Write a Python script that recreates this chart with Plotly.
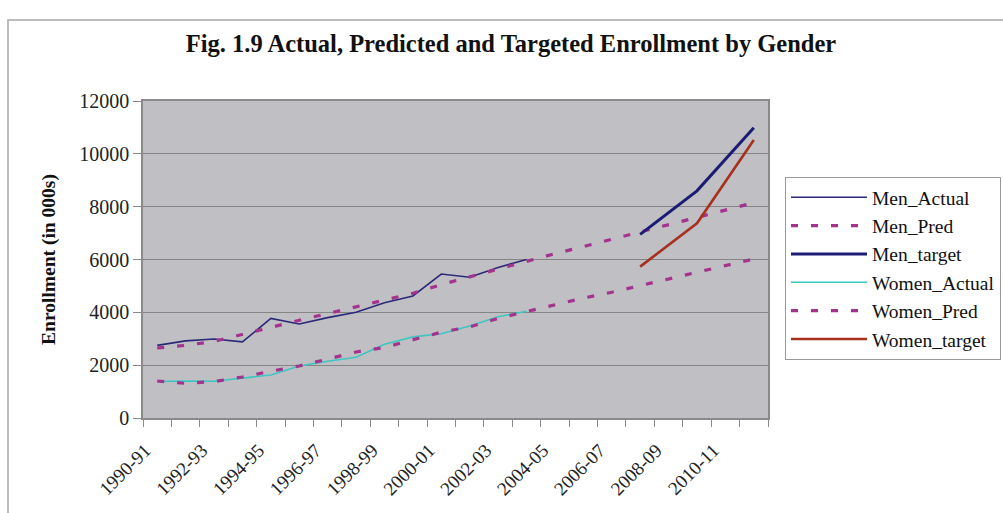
import plotly.graph_objects as go

# Academic years on the category axis
years = [f"{y}-{str(y + 1)[-2:]}" for y in range(1990, 2012)]

# Enrollment in thousands (None where a series has no value)
men_actual = [2750, 2920, 2990, 2880, 3770, 3560, 3800, 4000, 4360, 4620, 5450,
              5330, 5700, 6000, None, None, None, None, None, None, None, None]
men_pred = [2650, 2750, 2900, 3150, 3430, 3700, 3950, 4200, 4450, 4720, 5050,
            5350, 5650, 5920, 6220, 6490, 6760, 7050, 7320, 7590, 7870, 8150]
men_target = [None] * 17 + [6950, None, 8600, None, 10990]
women_actual = [1380, 1400, 1390, 1520, 1630, 1970, 2150, 2300, 2790, 3070, 3190,
                3480, 3830, 4040, None, None, None, None, None, None, None, None]
women_pred = [1400, 1310, 1380, 1550, 1770, 1970, 2230, 2500, 2670, 2970, 3250,
              3450, 3770, 4030, 4290, 4540, 4760, 5010, 5260, 5500, 5760, 6020]
women_target = [None] * 17 + [5730, None, 7370, None, 10520]

x = list(range(len(years)))
tick_idx = x[::2]
tick_text = years[::2]

SERIF = "Liberation Serif, Times New Roman, serif"
PRED_COLOR = "#A3338C"

series = [
    ("Men_Actual", men_actual, dict(color="#2C2A78", width=1.6)),
    ("Men_Pred", men_pred, dict(color=PRED_COLOR, width=3.2, dash="7px,13px")),
    ("Men_target", men_target, dict(color="#1C1C74", width=3)),
    ("Women_Actual", women_actual, dict(color="#3EC6C2", width=1.6)),
    ("Women_Pred", women_pred, dict(color=PRED_COLOR, width=3.2, dash="7px,13px")),
    ("Women_target", women_target, dict(color="#A8301F", width=2.6)),
]

fig = go.Figure()
for name, vals, line in series:
    fig.add_trace(go.Scatter(
        x=x, y=vals, name=name, mode="lines", line=line,
        connectgaps=True, legendgroup=name,
    ))

# Plot area in pixels: left 143, right 768, top 101, bottom 418
W, H = 1003, 513
L, R, T, B = 143, 768, 101, 418
pw, ph = R - L, B - T


def px_x(p):
    return (p - L) / pw


def px_y(p):
    return (B - p) / ph


fig.update_layout(
    width=W, height=H,
    margin=dict(l=L, r=W - R, t=T, b=H - B, autoexpand=False),
    paper_bgcolor="white",
    plot_bgcolor="#BFBFC4",
    font=dict(family=SERIF, color="black"),
    title=dict(
        text="<b>Fig. 1.9 Actual, Predicted and Targeted Enrollment by Gender</b>",
        x=511 / W, xanchor="center", y=1 - 43 / H, yanchor="middle",
        font=dict(size=24.5, family=SERIF, color="#111111"),
    ),
    showlegend=True,
    legend=dict(
        x=px_x(785), xanchor="left", y=px_y(177), yanchor="top",
        bordercolor="#9A9A9A", borderwidth=1, bgcolor="white",
        font=dict(size=19.5, family=SERIF, color="#111111"),
        tracegroupgap=6, itemwidth=76, traceorder="normal",
    ),
    xaxis=dict(
        range=[-0.5, len(years) - 0.5],
        tickmode="array", tickvals=tick_idx, ticktext=tick_text,
        tickangle=-45, ticks="", showgrid=False, zeroline=False,
        tickfont=dict(size=19, family=SERIF, color="#222222"),
        ticklabelshift=-12, ticklabelstandoff=12,
        showline=True, linecolor="#8A8A8A", linewidth=1.5, mirror=True,
        minor=dict(tickmode="linear", tick0=-0.5, dtick=1, ticks="outside",
                   ticklen=7, tickcolor="#8A8A8A", tickwidth=1, showgrid=False),
    ),
    yaxis=dict(
        range=[0, 12000], dtick=2000, tick0=0, tickformat="d",
        showgrid=True, gridcolor="#858585", gridwidth=1, zeroline=False,
        ticks="outside", ticklen=8, tickcolor="#8A8A8A",
        tickfont=dict(size=20, family=SERIF, color="#222222"),
        showline=True, linecolor="#8A8A8A", linewidth=1.5, mirror=True,
        title=dict(text="<b>Enrollment (in 000s)</b>", standoff=18,
                   font=dict(size=19.5, family=SERIF, color="#111111")),
    ),
    shapes=[
        # outer frame around the chart
        dict(type="rect", xref="paper", yref="paper",
             x0=px_x(8), x1=px_x(1012), y0=px_y(525), y1=px_y(20),
             line=dict(color="#A6A6A6", width=1.5), fillcolor="rgba(0,0,0,0)",
             layer="below"),
    ],
)

fig.write_html("out.html")
